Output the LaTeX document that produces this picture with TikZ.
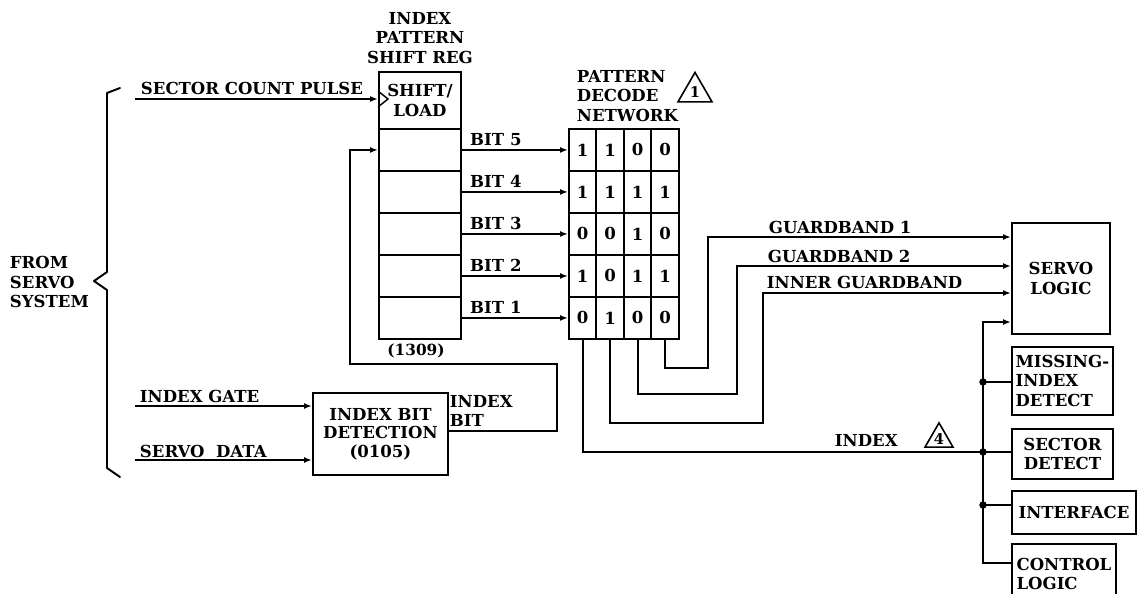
\documentclass[tikz,border=0pt]{standalone}
\usepackage{fontspec}
\setmainfont{DejaVu Serif}
\usetikzlibrary{positioning,arrows.meta,shapes.geometric}

\begin{document}
\begin{tikzpicture}[
  x=0.75pt, y=-0.75pt,
  >={Latex[length=6pt,width=4.5pt]},
  line width=1.45pt,
  every node/.style={font=\fontsize{12.4}{14.8}\selectfont\bfseries},
  sig/.style={anchor=base west, inner sep=0pt},
  rcell/.style={draw, anchor=north west, minimum width=61.5pt, minimum height=31.5pt, inner sep=0pt},
  mcell/.style={draw, anchor=north west, minimum width=20.6pt, minimum height=31.5pt, inner sep=0pt},
  box/.style={draw, anchor=north west, align=center, inner sep=2pt},
  tri/.style={draw, regular polygon, regular polygon sides=3, inner sep=0pt,
              line width=1.2pt, font=\fontsize{11}{11}\selectfont\bfseries}
]
  \useasboundingbox (0,0) rectangle (1137,593);
  \clip (0,0) rectangle (1137,593);

  % source side
  \node[anchor=west, align=left, inner sep=0pt] (src) at (9,282) {FROM\\SERVO\\SYSTEM};
  \draw[line cap=round, line join=round] (120,88) -- (107,93) -- (107,272) -- (94,281)
    -- (107,290) -- (107,468) -- (120,477);

  % shift register
  \node[align=center, inner sep=0pt] (regttl) at (420,38) {INDEX\\PATTERN\\SHIFT REG};
  \node[rcell, minimum height=42.75pt, align=center] (shl) at (378,71) {SHIFT/\\LOAD};
  \foreach \b [count=\i] in {5,4,3,2,1}
    \node[rcell] (bit\b) at (378,{128+42*(\i-1)}) {};
  \node[inner sep=0pt] (regnum) at (416,351) {\fontsize{11.5}{12}\selectfont (1309)};
  \draw[line width=1.1pt, line join=miter] (378,91) -- (388,99) -- (378,107);

  \coordinate (scp) at (135,99);
  \draw[->] (scp) -- (shl.west |- 0,99);
  \node[sig] (scplbl) at (140,94) {SECTOR COUNT PULSE};

  % decode network
  \node[align=left, anchor=west, inner sep=0pt] (decttl) at (576,96) {PATTERN\\DECODE\\NETWORK};
  \node[tri, minimum size=29.4pt] (mk1) at (695,92) {1};
  \foreach \vals [count=\r] in {{1,1,0,0},{1,1,1,1},{0,0,1,0},{1,0,1,1},{0,1,0,0}}
    \foreach \v [count=\c] in \vals
      \node[mcell] (m\r\c) at ({568+27.5*(\c-1)},{128+42*(\r-1)}) {\v};

  \foreach \b [count=\r] in {5,4,3,2,1}
    \draw[->] (bit\b.east) -- node[sig, pos=0, xshift=5.5pt, yshift=3.5pt] {BIT \b} (m\r1.west);

  % index bit detection
  \node[box, minimum width=101.25pt, minimum height=61.5pt, font=\fontsize{12.4}{13.8}\selectfont\bfseries]
    (ibd) at (312,392) {INDEX BIT\\DETECTION\\(0105)};
  \coordinate (igt) at (135,406);
  \coordinate (sdt) at (135,460);
  \draw[->] (igt) -- (ibd.west |- 0,406);
  \draw[->] (sdt) -- (ibd.west |- 0,460);
  \node[sig] (iglbl) at (139,402) {INDEX GATE};
  \node[sig] (sdlbl) at (139,457) {SERVO\ \ DATA};
  \node[anchor=north west, align=left, inner sep=0pt] (iblbl) at (449,394) {INDEX\\BIT};
  \draw[->] (ibd.east |- 0,431) -- (557,431) |- (350,364) |- (bit5.west);

  % right side blocks
  \node[box, minimum width=73.5pt, minimum height=83.25pt] (servo) at (1011,222) {SERVO\\LOGIC};
  \node[box, minimum width=75.75pt, minimum height=51pt, align=left] (miss) at (1011,346) {MISSING-\\INDEX\\DETECT};
  \node[box, minimum width=75.75pt, minimum height=37.5pt] (sect) at (1011,428) {SECTOR\\DETECT};
  \node[box, minimum width=93pt, minimum height=32.25pt] (iface) at (1011,490) {INTERFACE};
  \node[box, minimum width=78pt, minimum height=45pt, align=left] (ctrl) at (1011,543) {CONTROL\\LOGIC};

  % decoded outputs
  \draw[->] (m54.south) |- (708,368) |- (servo.west |- 0,237);
  \draw[->] (m53.south) |- (737,394) |- (servo.west |- 0,266);
  \draw[->] (m52.south) |- (763,423) |- (servo.west |- 0,293);
  \draw (m51.south) |- (983,452);
  \node[sig] (gb1) at (768,233) {GUARDBAND 1};
  \node[sig] (gb2) at (767,262) {GUARDBAND 2};
  \node[sig] (igb) at (766,288) {INNER GUARDBAND};
  \node[sig] (idx) at (834,446) {INDEX};
  \node[tri, minimum size=24.2pt] (mk4) at (939,439) {4};

  % index bus
  \draw[->] (ctrl.west |- 0,563) -| (983,322) -- (servo.west |- 0,322);
  \foreach \y/\blk in {382/miss, 452/sect, 505/iface} {
    \fill (983,\y) circle (2.8pt);
    \draw (983,\y) -- (\blk.west |- 0,\y);
  }
\end{tikzpicture}
\end{document}
